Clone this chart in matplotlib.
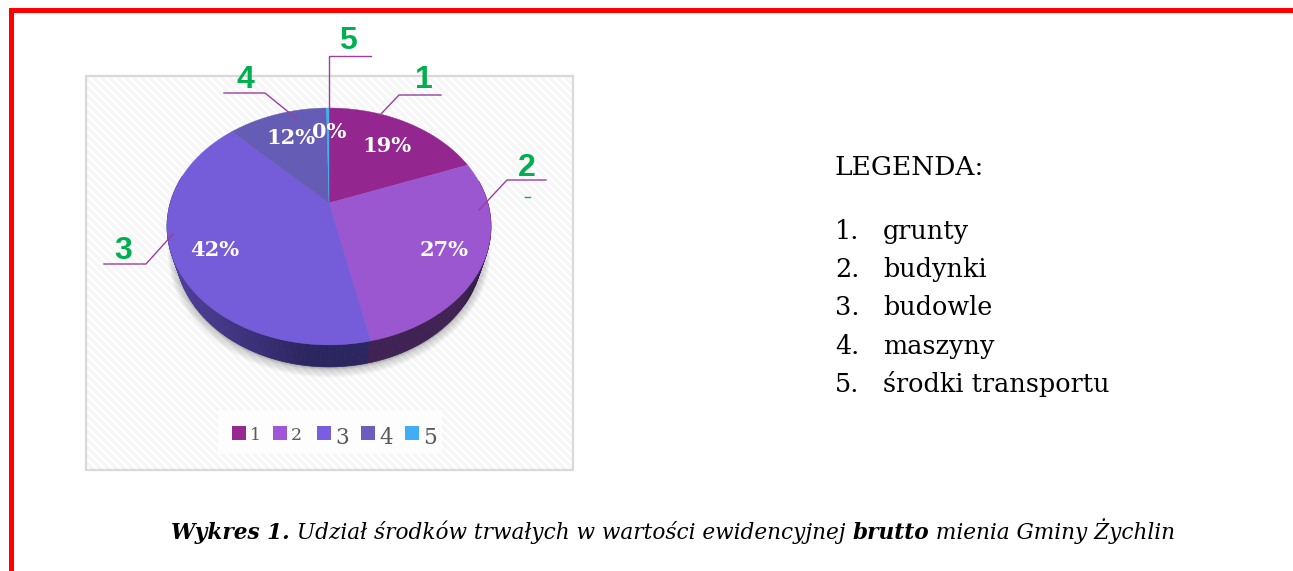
import numpy as np
import matplotlib
matplotlib.use('Agg')
import matplotlib.pyplot as plt
from matplotlib.colors import to_rgb
from matplotlib.patches import Rectangle, Polygon

categories = ['1', '2', '3', '4', '5']
values = [19.2, 27.4, 41.1, 12.0, 0.3]
pct_labels = ['19%', '27%', '42%', '12%', '0%']
pie_colors = ['#93278f', '#9a57d0', '#755cd8', '#655db5', '#3db5e8']
swatch_colors = ['#97288f', '#a056d8', '#7a5de0', '#6a5fbf', '#41adf5']
legend_items = ['grunty', 'budynki', 'budowle', 'maszyny', 'środki transportu']

W, H = 1293, 571
SERIF = 'DejaVu Serif'
fig = plt.figure(figsize=(W / 100, H / 100), dpi=100)
ax = fig.add_axes([0, 0, 1, 1])
ax.set_xlim(0, W)
ax.set_ylim(H, 0)
ax.axis('off')

# red frame, open on the right and at the bottom
ax.add_patch(Rectangle((9, 8), W, 4.5, fc='#ff0000', ec='none'))
ax.add_patch(Rectangle((9, 8), 4.5, H, fc='#ff0000', ec='none'))

# chart panel with light diagonal stripes
panel = Rectangle((86, 76), 487, 394, fc='white', ec='none')
ax.add_patch(panel)
for x0 in np.arange(86 - 394, 573, 8.0):
    line, = ax.plot([x0, x0 + 394], [76, 470], color='#f6f6f6', lw=2.4, zorder=1)
    line.set_clip_path(panel)
ax.add_patch(Rectangle((86, 76), 487, 394, fc='none', ec='#d9d9d9', lw=1.6, zorder=2))

# pie in perspective: circle through a homography
cx, cy = 329, 203
A, S, K = 158.8, 113.8, 0.198
depth = 22
shrink = 0.95


def project(theta):
    # theta is clockwise from top, in radians
    X, Y = np.sin(theta), np.cos(theta)
    w = 1 + K * Y
    return cx + A * X / w, cy - S * Y / w


def lower(x, y):
    return cx + (x - cx) * shrink, y + depth


edges = np.cumsum([0] + values) / sum(values) * 2 * np.pi

# soft shadow under the pie
tt = np.linspace(0, 2 * np.pi, 240)
sx, sy = lower(*project(tt))
for i in range(8):
    ax.fill(sx, sy + 3 - i * 0.5, color='#555555', alpha=0.04, lw=2 + (8 - i) * 1.1,
            ec='#555555', zorder=3)


# side wall, shaded across x
def side_color(x, a, b):
    f = np.clip((x - 178) / 130.0, 0, 1)
    return tuple(np.array(to_rgb(a)) * (1 - f) + np.array(to_rgb(b)) * f)


tside = np.linspace(np.pi / 2 - 0.2, 3 * np.pi / 2 + 0.25, 260)
for t0, t1 in zip(tside[:-1], tside[1:]):
    x0, y0 = project(t0)
    x1, y1 = project(t1)
    bx0, by0 = lower(x0, y0)
    bx1, by1 = lower(x1, y1)
    if edges[2] <= t0 < edges[3]:
        col = side_color(bx0, '#50409c', '#2b2560')
    else:
        col = '#3f2253' if x0 < 470 else '#35204a'
    ax.add_patch(Polygon([(x0, y0), (x1, y1), (bx1, by1), (bx0, by0)],
                         fc=col, ec=col, lw=0.5, zorder=4))

# top slices
for i in range(len(values)):
    tt = np.linspace(edges[i], edges[i + 1], 120)
    px, py = project(tt)
    ax.fill(np.r_[cx, px], np.r_[cy, py], color=pie_colors[i], lw=0.3, zorder=5)

# percent labels
pct_pos = [(387, 146), (444, 250), (215, 250), (291, 138), (329, 132)]
for lab, (x, y) in zip(pct_labels, pct_pos):
    ax.text(x, y, lab, color='white', fontsize=15, fontweight='bold', family=SERIF,
            ha='center', va='center', zorder=7)

# leader lines and green numbers
leaders = [
    ([380, 399, 441], [115, 95, 95]),
    ([479, 507, 546], [210, 180, 180]),
    ([173, 146, 104], [234, 264, 264]),
    ([297, 265, 224], [119, 93, 93]),
    ([329, 329, 371], [108, 56, 56]),
]
for lx, ly in leaders:
    ax.plot(lx, ly, color='#9a3ea0', lw=1.0, zorder=6)
num_pos = [(424, 80), (527, 168), (123, 251), (245, 80), (348, 41)]
for lab, (x, y) in zip(categories, num_pos):
    ax.text(x, y, lab, color='#00b050', fontsize=23, fontweight='bold', family='Liberation Sans',
            ha='center', va='center', zorder=7)
ax.plot([525, 530], [196.5, 196.5], color='#00b050', lw=1.0, zorder=6)

# chart legend
ax.add_patch(Rectangle((218, 410), 224, 44, fc='#fdfdfd', ec='none', zorder=3))
sw_x = [232, 273, 317, 361, 405]
for i, x in enumerate(sw_x):
    ax.add_patch(Rectangle((x, 426), 14, 14, fc=swatch_colors[i], ec='none', zorder=4))
    ax.text(x + 18, 440 if i < 2 else 444, categories[i], color='#595959', fontsize=12.5 if i < 2 else 15.5,
            family=SERIF, ha='left', va='baseline', zorder=4)

# text legend on the right
ax.text(835, 175, 'LEGENDA:', fontsize=19, family=SERIF, color='black', va='baseline')
for i, item in enumerate(legend_items):
    y = 239 + i * 38.2
    ax.text(835, y, str(i + 1) + '.', fontsize=18.4, family=SERIF, color='black', va='baseline')
    ax.text(883, y, item, fontsize=18.4, family=SERIF, color='black', va='baseline')

# caption, mixed weights placed one after another
parts = [
    ('Wykres 1.', 'bold'),
    (' Udział środków trwałych w wartości ewidencyjnej ', 'normal'),
    ('brutto', 'bold'),
    (' mienia Gminy Żychlin', 'normal'),
]
renderer = fig.canvas.get_renderer()
xpos = 171
for s, weight in parts:
    t = ax.text(xpos, 539, s.replace(' ', '\u00a0'), fontsize=15.6, style='italic', fontweight=weight,
                family=SERIF, color='black', va='baseline')
    xpos = t.get_window_extent(renderer).x1

fig.savefig('out.png', dpi=100)
